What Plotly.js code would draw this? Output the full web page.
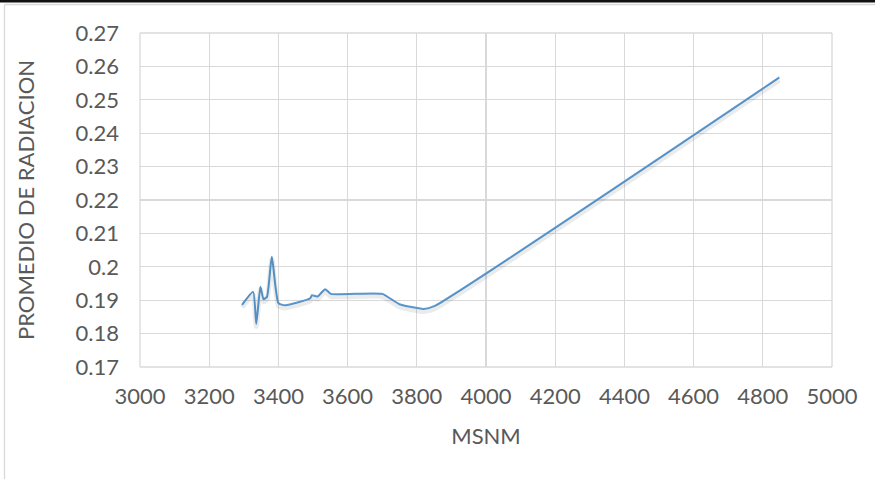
<!DOCTYPE html>
<html>
<head>
<meta charset="utf-8">
<script src="https://cdn.plot.ly/plotly-3.0.1.min.js"></script>
<style>html,body{margin:0;padding:0;background:#fff;}#chart{width:875px;height:479px;}</style>
</head>
<body>
<div id="chart"></div>
<script>
// MSNM (altitude) and average radiation values
const msnm = [3295, 3327, 3336, 3348, 3357, 3367, 3381, 3400, 3420, 3492, 3497, 3513, 3535, 3552, 3700, 3750, 3820, 3850, 4848];
const radiacion = [0.1886, 0.1925, 0.1829, 0.1940, 0.1903, 0.1910, 0.2030, 0.1891, 0.1885, 0.1906, 0.1915, 0.1911, 0.1933, 0.1919, 0.1919, 0.1888, 0.1874, 0.1882, 0.2567];
const xTicks = [3000, 3200, 3400, 3600, 3800, 4000, 4200, 4400, 4600, 4800, 5000];
const yTicks = [0.17, 0.18, 0.19, 0.2, 0.21, 0.22, 0.23, 0.24, 0.25, 0.26, 0.27];
const yTickText = ['0.17', '0.18', '0.19', '0.2', '0.21', '0.22', '0.23', '0.24', '0.25', '0.26', '0.27'];

const font = {family: 'Lato, "Open Sans", sans-serif', size: 22, color: '#595959'};
const yShift = 0.0008; // visual shadow offset in data units

const traces = [
  {x: msnm, y: radiacion, yaxis: 'y2', type: 'scatter', mode: 'lines',
   line: {shape: 'spline', smoothing: 0.5, color: 'rgba(0,0,0,0.08)', width: 5},
   hoverinfo: 'skip', showlegend: false},
  {x: msnm, y: radiacion, type: 'scatter', mode: 'lines',
   line: {shape: 'spline', smoothing: 0.5, color: '#5b9bd5', width: 2},
   showlegend: false}
];

const layout = {
  width: 875, height: 479,
  margin: {l: 139.5, r: 42.5, t: 33, b: 112},
  paper_bgcolor: '#fff', plot_bgcolor: '#fff',
  font: font,
  showlegend: false,
  xaxis: {
    range: [3000, 5000], tickvals: xTicks, ticktext: xTicks.map(String),
    showgrid: true, gridcolor: '#d9d9d9', gridwidth: 1.3,
    zeroline: false, showline: false, ticks: '', ticklabelstandoff: 14,
    tickfont: font,
    title: {text: 'MSNM', font: font, standoff: 20}
  },
  yaxis: {
    range: [0.17, 0.27], tickvals: yTicks, ticktext: yTickText,
    showgrid: true, gridcolor: '#d9d9d9', gridwidth: 1.3,
    zeroline: false, showline: false, ticks: '', ticklabelstandoff: 20,
    tickfont: font,
    title: {text: 'PROMEDIO DE RADIACION', font: font, standoff: 34}
  },
  yaxis2: {
    overlaying: 'y', range: [0.17 + yShift, 0.27 + yShift],
    visible: false, showgrid: false
  },
  shapes: [
    {type: 'line', xref: 'paper', yref: 'paper', x0: 0, x1: 1, y0: 1, y1: 1, layer: 'below', line: {color: '#d9d9d9', width: 1.3}},
    {type: 'line', xref: 'paper', yref: 'paper', x0: 1, x1: 1, y0: 0, y1: 1, layer: 'below', line: {color: '#d9d9d9', width: 1.3}},
    {type: 'line', xref: 'paper', yref: 'paper', x0: 0, x1: 1, y0: 0, y1: 0, layer: 'below', line: {color: '#d9d9d9', width: 1.3}},
    {type: 'line', xref: 'paper', yref: 'paper', x0: 0, x1: 0, y0: 0, y1: 1, layer: 'below', line: {color: '#d9d9d9', width: 1.3}}
  ]
};

Plotly.newPlot('chart', traces, layout, {staticPlot: true, displayModeBar: false}).then(function () {
  // page frame: dark top edge and light chart border, as in the reference screenshot
  const svg = document.querySelector('#chart .main-svg');
  const ns = 'http://www.w3.org/2000/svg';
  function add(tag, attrs) {
    const el = document.createElementNS(ns, tag);
    for (const k in attrs) el.setAttribute(k, attrs[k]);
    svg.appendChild(el);
  }
  add('rect', {x: 0, y: 0, width: 875, height: 2.5, fill: '#111'});
  add('line', {x1: 4.5, y1: 4.5, x2: 875, y2: 4.5, stroke: '#d9d9d9', 'stroke-width': 1.3});
  add('line', {x1: 4.5, y1: 4.5, x2: 4.5, y2: 479, stroke: '#d9d9d9', 'stroke-width': 1.3});
});
</script>
</body>
</html>
